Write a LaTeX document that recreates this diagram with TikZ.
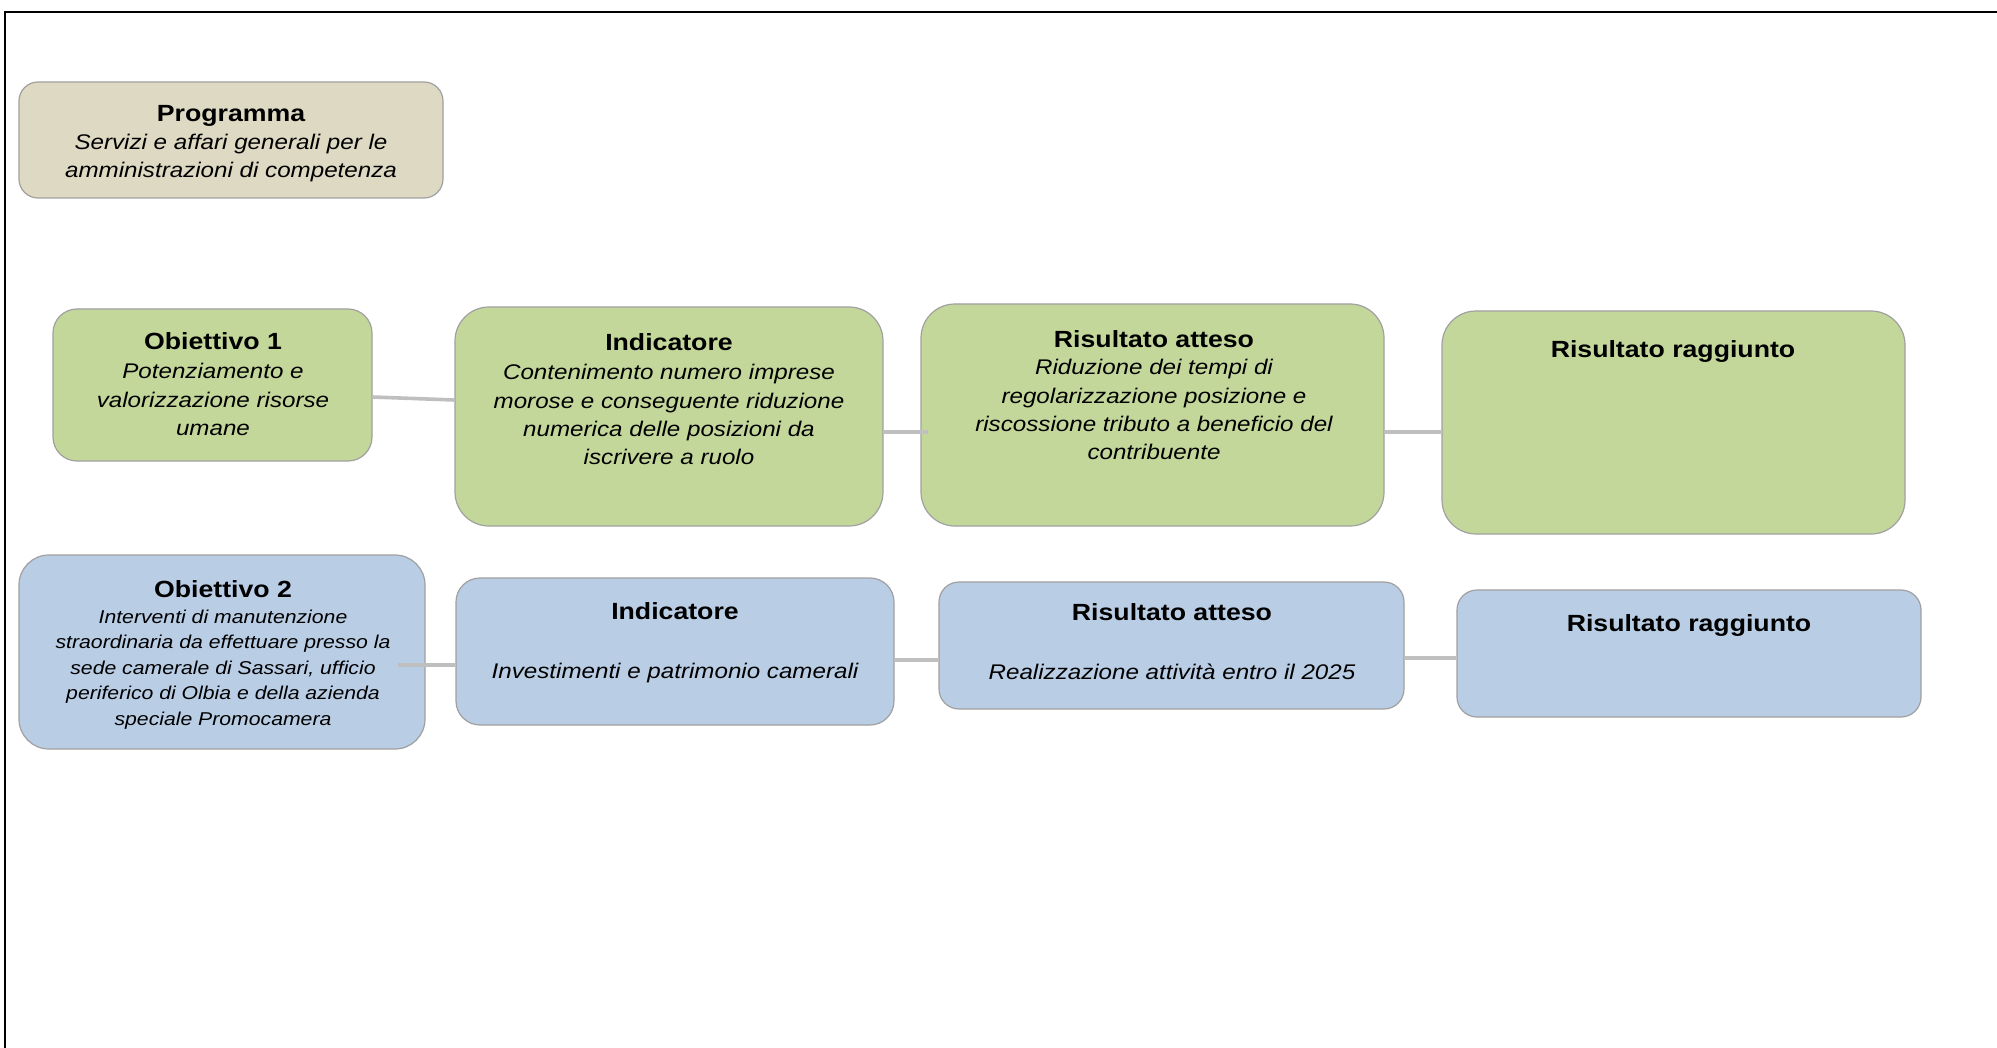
\documentclass[tikz,border=0pt]{standalone}
\usepackage{fontspec}
\newfontfamily\sa{Liberation Sans}[FakeStretch=1.14]
\definecolor{grn}{HTML}{C4D79B}
\definecolor{blu}{HTML}{B9CDE5}
\definecolor{bei}{HTML}{DDD9C3}
\definecolor{bordergray}{HTML}{A0A0A0}
\definecolor{conngray}{HTML}{BFBFBF}
\begin{document}
\begin{tikzpicture}[x=0.5pt,y=-0.5pt,
  box/.style={draw=bordergray, line width=0.6pt, inner sep=0pt},
  ttl/.style={anchor=base, inner sep=0pt, font=\sa\bfseries\fontsize{11.7}{13}\selectfont},
  bdy/.style={anchor=north, inner sep=0pt, align=center, font=\sa\itshape\fontsize{10.6}{14.1}\selectfont},
  bdys/.style={anchor=north, inner sep=0pt, align=center, font=\sa\itshape\fontsize{9.3}{12.7}\selectfont},
  conn/.style={draw=conngray, line width=1.8pt}]
\useasboundingbox (0,0) rectangle (1997,1048);
\fill[white] (0,0) rectangle (1997,1048);
\draw[line width=0.6pt] (5,1048) -- (5,12) -- (1997,12);

% boxes
\node[box, fill=bei, minimum width=212pt, minimum height=58pt, rounded corners=9.5pt] (prog) at (231,140) {};
\node[box, fill=grn, minimum width=159.5pt, minimum height=76pt, rounded corners=12pt] (o1) at (212.5,385) {};
\node[box, fill=grn, minimum width=214pt, minimum height=109.5pt, rounded corners=17pt] (i1) at (669,416.5) {};
\node[box, fill=grn, minimum width=231.5pt, minimum height=111pt, rounded corners=17pt] (a1) at (1152.5,415) {};
\node[box, fill=grn, minimum width=231.5pt, minimum height=111.5pt, rounded corners=17pt] (r1) at (1673.5,422.5) {};
\node[box, fill=blu, minimum width=203pt, minimum height=97pt, rounded corners=15pt] (o2) at (222,652) {};
\node[box, fill=blu, minimum width=219pt, minimum height=73.5pt, rounded corners=12pt] (i2) at (675,651.5) {};
\node[box, fill=blu, minimum width=232.5pt, minimum height=63.5pt, rounded corners=10pt] (a2) at (1171.5,645.5) {};
\node[box, fill=blu, minimum width=232pt, minimum height=63.5pt, rounded corners=10pt] (r2) at (1689,653.5) {};

% connectors
\draw[conn] ([yshift=-6pt]o1.east) -- ([yshift=8.25pt]i1.west);
\draw[conn] ([yshift=-7.75pt]i1.east) -- ([yshift=-8.5pt,xshift=4pt]a1.west);
\draw[conn] ([yshift=-8.5pt]a1.east) -- ([yshift=-4.75pt]r1.west);
\draw[conn] ([yshift=-6.5pt,xshift=-14pt]o2.east) -- ([yshift=-6.75pt]i2.west);
\draw[conn] ([yshift=-4.25pt]i2.east) -- ([yshift=-7.25pt]a2.west);
\draw[conn] ([yshift=-6.25pt]a2.east) -- ([yshift=-2.25pt]r2.west);

% texts
\node[ttl] (progt) at (231,121.5) {Programma};
\node[bdy] (progb) at (231,131) {\rule{0pt}{9pt}Servizi e affari generali per le\\amministrazioni di competenza};

\node[ttl] (o1t) at (213,349.5) {Obiettivo 1};
\node[bdy] (o1b) at (213,360.5) {\rule{0pt}{9pt}Potenziamento e\\valorizzazione risorse\\umane};

\node[ttl] (i1t) at (669,350.5) {Indicatore};
\node[bdy] (i1b) at (669,361.5) {\rule{0pt}{9pt}Contenimento numero imprese\\morose e conseguente riduzione\\numerica delle posizioni da\\iscrivere a ruolo};

\node[ttl] (a1t) at (1154,348) {Risultato atteso};
\node[bdy] (a1b) at (1154,356.5) {\rule{0pt}{9pt}Riduzione dei tempi di\\regolarizzazione posizione e\\riscossione tributo a beneficio del\\contribuente};

\node[ttl] (r1t) at (1673,357.5) {Risultato raggiunto};

\node[ttl] (o2t) at (223,597.5) {Obiettivo 2};
\node[bdys] (o2b) at (223,605) {\rule{0pt}{9pt}Interventi di manutenzione\\straordinaria da effettuare presso la\\sede camerale di Sassari, ufficio\\periferico di Olbia e della azienda\\speciale Promocamera};

\node[ttl] (i2t) at (675,619.5) {Indicatore};
\node[bdy] (i2b) at (675,660.5) {\rule{0pt}{9pt}Investimenti e patrimonio camerali};

\node[ttl] (a2t) at (1172,620.5) {Risultato atteso};
\node[bdy] (a2b) at (1172,661.5) {\rule{0pt}{9pt}Realizzazione attività entro il 2025};

\node[ttl] (r2t) at (1689,631) {Risultato raggiunto};
\end{tikzpicture}
\end{document}
